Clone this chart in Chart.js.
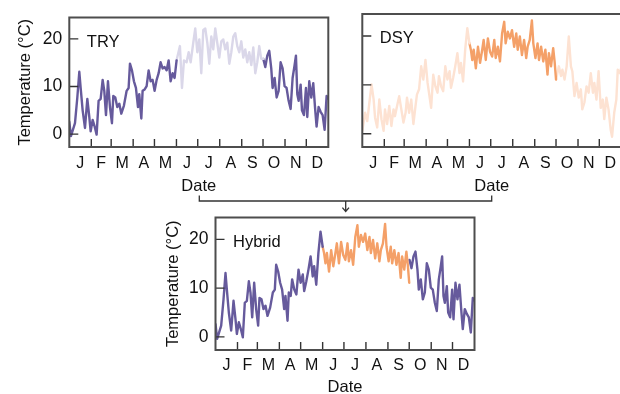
<!DOCTYPE html>
<html>
<head>
<meta charset="utf-8">
<script src="https://cdn.jsdelivr.net/npm/chart.js@4.4.0/dist/chart.umd.min.js"></script>
<style>
  html, body { margin: 0; padding: 0; background: #fff; width: 620px; height: 394px; overflow: hidden; position: relative; }
  canvas, svg { position: absolute; }
</style>
</head>
<body>
<canvas id="tryChart" width="340" height="200" style="left:0;top:0"></canvas>
<canvas id="dsyChart" width="340" height="200" style="left:293px;top:0"></canvas>
<canvas id="hybridChart" width="340" height="200" style="left:146px;top:200px"></canvas>
<svg width="620" height="394" style="left:0;top:0" fill="none" stroke="#333" stroke-width="1.3">
  <path d="M199.3 195.5 V201 H491.7 V195.5"/>
  <path d="M345.7 201 V211.5 M342.4 207.6 L345.7 211.5 L349 207.6"/>
</svg>
<script>
const monthLabels = ['J', 'F', 'M', 'A', 'M', 'J', 'J', 'A', 'S', 'O', 'N', 'D'];
const monthStarts = [0, 31, 59, 90, 120, 151, 181, 212, 243, 273, 304, 334, 365];
const tempTicks = [0, 10, 20];

// TRY, day of year / daily temperature
const tryDay = [0, 2.3, 8, 11.3, 14.1, 16, 18.8, 22.1, 25.4, 28.2,
  30.1, 32.9, 35.7, 38.5, 41.3, 44.2, 47, 49.3, 51.7, 54.5,
  57.3, 60.1, 62, 64.8, 67.6, 70.5, 73.3, 77, 80.8, 83.6,
  85.5, 88.3, 91.1, 93.9, 96.8, 98.6, 101.5, 103.3, 106.2, 109,
  111.8, 114.6, 117.4, 120.2, 123.1, 125.9, 128.7, 131.5, 134.3, 137.2,
  140, 142.8, 145.6, 148.4, 151.2, 155.9, 158.8, 161.6, 165.3, 168.2,
  171, 174.7, 177.5, 180.4, 183.2, 186, 188.8, 191.6, 194.5, 197.3,
  200.1, 202.9, 205.7, 208.5, 211.4, 214.2, 217, 219.8, 222.6, 225.5,
  228.3, 231.1, 233.9, 236.7, 239.5, 242.4, 245.2, 248, 250.8, 253.6,
  256.5, 259.3, 262.1, 264.9, 267.7, 270.5, 273.4, 276.2, 279, 281.8,
  284.6, 286.5, 289.3, 292.2, 295, 297.8, 300.6, 303.4, 306.2, 309.1,
  311.9, 314.7, 317.5, 319.4, 321.3, 323.2, 326, 327.9, 330.7, 333.5,
  335.4, 338.2, 341, 343.8, 346.6, 348.5, 351.3, 354.2, 357, 359.8,
  362.6, 365];
const tryTemp = [2.6, -0.4, 2.3, 7.7, 13.1, 9.7, 5.0, 1.3, 7.4, 3.6,
  0.6, 3.0, 1.6, -0.1, 7.0, 7.4, 11.4, 9.1, 4.0, 11.1,
  5.7, 2.3, 8.0, 7.7, 5.7, 6.4, 4.3, 6.0, 9.1, 9.7,
  14.8, 13.4, 11.1, 9.7, 5.7, 8.4, 3.3, 9.1, 9.4, 10.1,
  13.4, 11.1, 11.4, 9.1, 11.4, 12.8, 15.1, 13.8, 14.1, 13.4,
  15.5, 11.1, 12.8, 11.8, 15.5, 18.5, 9.7, 15.5, 15.1, 17.2,
  15.1, 19.2, 22.2, 17.2, 19.9, 12.8, 21.9, 22.2, 19.2, 14.8,
  20.5, 17.8, 22.2, 19.2, 16.1, 19.5, 19.9, 17.8, 19.2, 14.8,
  17.2, 20.5, 21.2, 18.5, 17.2, 19.5, 16.1, 17.8, 15.1, 17.2,
  14.5, 18.2, 12.8, 15.1, 18.5, 15.8, 15.8, 14.1, 16.5, 17.5,
  13.8, 9.7, 11.8, 7.7, 9.1, 15.1, 13.8, 10.1, 9.7, 7.0,
  5.3, 11.8, 14.5, 16.5, 8.4, 7.0, 10.4, 5.0, 4.0, 9.7,
  3.6, 11.1, 7.7, 10.7, 5.0, 1.6, 5.7, 4.7, 4.0, 0.9,
  8.0, 7.5];

// DSY
const dsyDay = [0, 4, 7, 10, 13, 16, 18, 21, 24, 27,
  30, 32, 35, 38, 41, 44, 46, 49, 52, 55,
  58, 61, 63, 66, 69, 72, 75, 77, 80, 83,
  86, 89, 92, 94, 97, 100, 103, 106, 108, 111,
  114, 117, 120, 123, 125, 128, 131, 134, 137, 139,
  142, 145, 148, 151, 153, 155, 157, 160, 163, 166,
  169, 171, 174, 177, 180, 183, 186, 188, 191, 194,
  197, 200, 202, 205, 208, 211, 214, 217, 219, 222,
  225, 228, 231, 233, 236, 239, 241, 244, 247, 249,
  252, 255, 258, 261, 263, 266, 269, 271, 273, 277,
  280, 282, 285, 288, 291, 294, 296, 299, 302, 305,
  308, 310, 313, 316, 319, 322, 325, 327, 330, 333,
  336, 339, 341, 344, 347, 350, 352, 355, 358, 360,
  363, 365];
const dsyTemp = [0.6, 4.3, 2.6, 6.4, 10.1, 7.0, 3.3, 1.3, 7.0, 3.0,
  0.6, 5.0, 2.0, 5.7, 1.6, 5.0, 3.6, 5.7, 7.7, 5.0,
  2.3, 4.3, 7.4, 4.3, 7.0, 2.0, 5.7, 8.0, 9.1, 13.8,
  11.1, 15.1, 10.4, 8.4, 5.3, 12.1, 9.7, 8.4, 11.8, 9.7,
  8.7, 13.8, 11.1, 12.8, 9.4, 11.4, 13.8, 16.5, 12.4, 14.5,
  10.7, 17.2, 21.6, 18.5, 17.2, 15.1, 17.2, 13.4, 17.8, 14.5,
  17.2, 19.2, 15.1, 19.5, 16.8, 15.8, 19.2, 15.5, 17.8, 14.8,
  20.5, 22.9, 18.5, 20.9, 19.5, 21.2, 17.8, 20.5, 17.2, 19.9,
  16.1, 19.2, 15.5, 17.8, 19.2, 23.2, 18.5, 15.5, 18.5, 15.1,
  17.8, 14.8, 17.2, 12.1, 16.5, 13.8, 17.5, 14.8, 11.1, 13.8,
  11.8, 13.1, 11.1, 13.8, 19.9, 13.8, 12.8, 7.7, 10.4, 7.4,
  9.1, 5.0, 6.4, 9.7, 8.4, 12.4, 8.4, 10.4, 7.0, 12.8,
  5.3, 7.0, 3.0, 7.4, 5.0, 0.9, -0.6, 4.3, 7.0, 13.1,
  12.4, 13.6];

const PURPLE = '#665a9c';
const PURPLE_LIGHT = '#dad7e9';
const ORANGE = '#f4a068';
const ORANGE_LIGHT = '#fde2d2';
const FONT = '"Liberation Sans", Arial, Helvetica, sans-serif';

function pick(days, temps, from, to) {
  const pts = [];
  days.forEach((d, i) => {
    if (d >= from && d <= to) pts.push({ x: d, y: temps[i] });
  });
  return pts;
}

function line(data, color) {
  return { data, borderColor: color, borderWidth: 2.4, pointRadius: 0, tension: 0,
    fill: false, borderJoinStyle: 'round', borderCapStyle: 'round' };
}

// frame, inward ticks and panel name
const panelFrame = {
  id: 'panelFrame',
  afterDatasetsDraw(chart, args, opts) {
    const { ctx, chartArea: a, scales: { x, y } } = chart;
    ctx.save();
    ctx.strokeStyle = '#333';
    ctx.lineWidth = 1.4;
    ctx.beginPath();
    monthStarts.slice(1, -1).forEach(d => {
      const px = x.getPixelForValue(d);
      ctx.moveTo(px, a.bottom);
      ctx.lineTo(px, a.bottom - 8);
    });
    tempTicks.forEach(t => {
      const py = y.getPixelForValue(t);
      ctx.moveTo(a.left, py);
      ctx.lineTo(a.left + 9, py);
    });
    ctx.stroke();
    ctx.strokeStyle = '#4d4d4d';
    ctx.lineWidth = 2;
    ctx.strokeRect(a.left, a.top, a.right - a.left, a.bottom - a.top);
    ctx.fillStyle = '#111';
    ctx.font = '16.5px ' + FONT;
    ctx.textBaseline = 'alphabetic';
    ctx.fillText(opts.label, a.left + 17.5, a.top + 29.3);
    ctx.restore();
  }
};

function makeChart(id, datasets, g) {
  const monthMid = monthLabels.map((m, i) => (monthStarts[i] + monthStarts[i + 1]) / 2);
  return new Chart(document.getElementById(id), {
    type: 'line',
    data: { datasets },
    plugins: [panelFrame],
    options: {
      responsive: false,
      animation: false,
      devicePixelRatio: 1,
      layout: { padding: { top: g.top, right: g.right, left: 0, bottom: 0 } },
      plugins: {
        legend: { display: false },
        tooltip: { enabled: false },
        panelFrame: { label: g.label }
      },
      scales: {
        x: {
          type: 'linear',
          min: 0,
          max: 365,
          grid: { display: false, drawTicks: false },
          border: { display: false },
          afterBuildTicks: s => { s.ticks = monthMid.map(v => ({ value: v })); },
          afterFit: s => { s.height = g.xh; },
          ticks: {
            autoSkip: false, maxRotation: 0, minRotation: 0,
            padding: g.xpad, color: '#111', font: { family: FONT, size: 16 },
            callback: (v, i) => monthLabels[i]
          },
          title: {
            display: true, text: 'Date', color: '#111',
            font: { family: FONT, size: 16.5 }, padding: { top: 0, bottom: g.datePad }
          }
        },
        y: {
          min: -2.7,
          max: 24.5,
          grid: { display: false, drawTicks: false },
          border: { display: false },
          afterBuildTicks: s => { s.ticks = tempTicks.map(v => ({ value: v })); },
          afterFit: s => { s.width = g.yw; },
          ticks: {
            display: g.yLabels, padding: 7, color: '#111',
            font: { family: FONT, size: 17.5 }
          },
          title: {
            display: g.yLabels, text: 'Temperature (°C)', color: '#111',
            font: { family: FONT, size: 16.5 }, padding: { top: g.titlePad, bottom: 0 }
          }
        }
      }
    }
  });
}

makeChart('tryChart', [
  line(pick(tryDay, tryTemp, 0, 152), PURPLE),
  line(pick(tryDay, tryTemp, 151, 273.5), PURPLE_LIGHT),
  line(pick(tryDay, tryTemp, 273, 366), PURPLE)
], { label: 'TRY', yLabels: true, yw: 69.3, top: 14, right: 11.7, xh: 53, xpad: 6.5, datePad: 3.5, titlePad: 15.3 });

makeChart('dsyChart', [
  line(pick(dsyDay, dsyTemp, 0, 152), ORANGE_LIGHT),
  line(pick(dsyDay, dsyTemp, 151, 273.5), ORANGE),
  line(pick(dsyDay, dsyTemp, 273, 366), ORANGE_LIGHT)
], { label: 'DSY', yLabels: false, yw: 69.3, top: 14, right: 11.7, xh: 53, xpad: 6.5, datePad: 3.5, titlePad: 15.3 });

makeChart('hybridChart', [
  line(pick(tryDay, tryTemp, 0, 104).concat(pick(dsyDay, dsyTemp, 104.5, 152)), PURPLE),
  line(pick(dsyDay, dsyTemp, 151, 273.5), ORANGE),
  line(pick(tryDay, tryTemp, 273, 366), PURPLE)
], { label: 'Hybrid', yLabels: true, yw: 69.5, top: 15.7, right: 11.5, xh: 50, xpad: 5.5, datePad: 2.5, titlePad: 17.3 });
</script>
</body>
</html>
